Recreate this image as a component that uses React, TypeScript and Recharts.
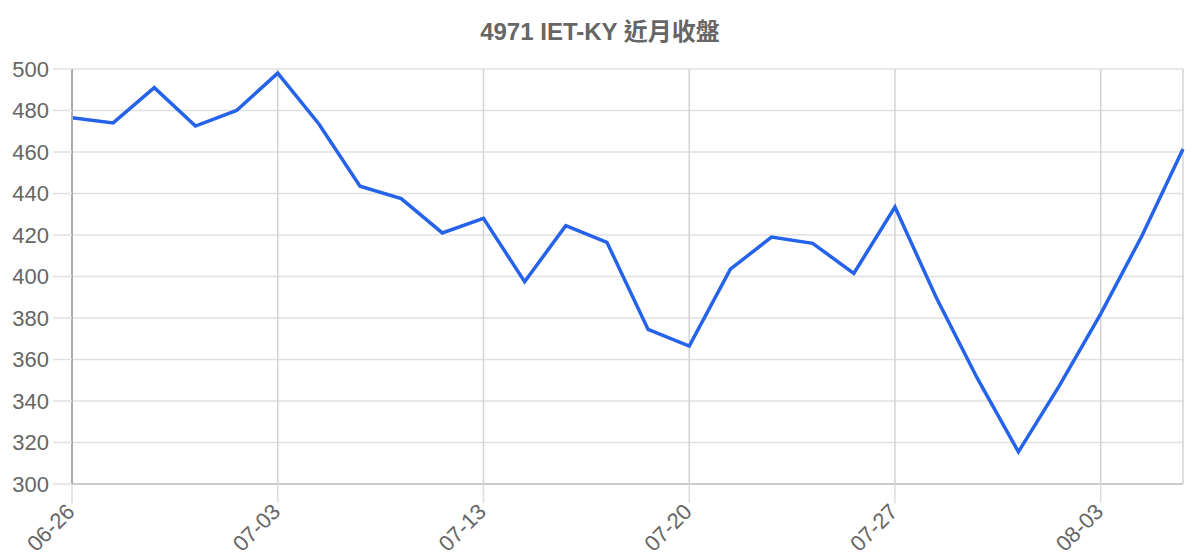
import React from 'react'
import { LineChart, Line, XAxis, YAxis, CartesianGrid } from 'recharts'

const dates = [
  '06-26', '06-27', '06-28', '06-29', '06-30', '07-03', '07-04', '07-06',
  '07-07', '07-11', '07-13', '07-14', '07-17', '07-18', '07-19', '07-20',
  '07-21', '07-24', '07-25', '07-26', '07-27', '07-28', '07-31', '08-01',
  '08-02', '08-03', '08-04', '08-07',
]

const closes = [
  476.5, 474, 491, 472.5, 480, 498, 473.5, 443.5, 437.5, 421, 428, 397.5,
  424.5, 416.5, 374.5, 366.5, 403.5, 419, 416, 401.5, 433.5, 390, 351, 315.5,
  347.5, 382, 419.5, 461.5,
]

const xTicks = ['06-26', '07-03', '07-13', '07-20', '07-27', '08-03']
const yTicks = [300, 320, 340, 360, 380, 400, 420, 440, 460, 480, 500]

const data = dates.map((date, i) => ({ date, close: closes[i] }))

const fontFamily = '"Liberation Sans", Arial, sans-serif'
const tickFont = { fill: '#666', fontSize: 22, fontFamily }

// rotated date label, its end sits just right of the tick
function DateTick({ x, y, payload }: any) {
  return (
    <g transform={`translate(${x + 4},${y + 10}) rotate(-45)`}>
      <text x={0} y={0} textAnchor="end" fill="#666" fontSize={22} fontFamily={fontFamily}>
        {payload.value}
      </text>
    </g>
  )
}

export default function App() {
  return (
    <div style={{ position: 'absolute', left: 0, top: 0, width: 1200, height: 560, background: '#fff' }}>
      <div
        style={{
          position: 'absolute',
          left: 0,
          top: 17,
          width: 1200,
          textAlign: 'center',
          fontFamily: '"Liberation Sans", Arial, "Noto Sans CJK TC", sans-serif',
          fontWeight: 'bold',
          fontSize: 24,
          color: '#666',
          lineHeight: '30px',
        }}
      >
        4971 IET-KY 近月收盤
      </div>
      <LineChart
        width={1200}
        height={560}
        data={data}
        margin={{ top: 69, right: 17, left: 0, bottom: 0 }}
      >
        <CartesianGrid vertical={false} stroke="#e0e0e0" strokeWidth={1.5} />
        <CartesianGrid horizontal={false} stroke="#d4d4d4" strokeWidth={1.5} />
        <XAxis
          dataKey="date"
          ticks={xTicks}
          interval={0}
          height={76}
          tickSize={19}
          tickMargin={0}
          tick={<DateTick />}
          tickLine={{ stroke: '#ddd', strokeWidth: 1.5 }}
          axisLine={{ stroke: '#ccc', strokeWidth: 2 }}
        />
        <YAxis
          domain={[300, 500]}
          ticks={yTicks}
          width={72}
          tickSize={19}
          tickMargin={4}
          tick={tickFont}
          tickLine={{ stroke: '#e0e0e0', strokeWidth: 1.5 }}
          axisLine={{ stroke: '#aaa', strokeWidth: 2 }}
        />
        <Line
          type="linear"
          dataKey="close"
          stroke="#2563eb"
          strokeWidth={3.5}
          dot={false}
          isAnimationActive={false}
        />
      </LineChart>
    </div>
  )
}
